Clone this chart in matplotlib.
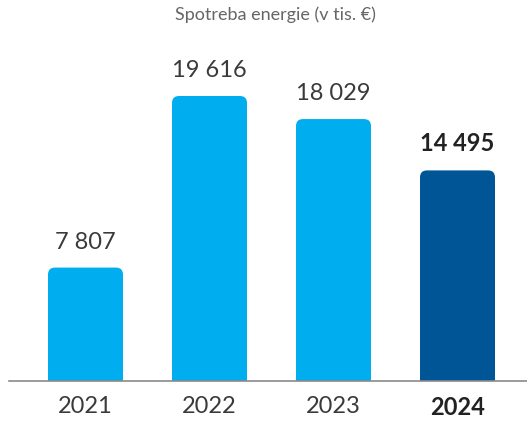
import matplotlib
matplotlib.use("Agg")
import matplotlib.pyplot as plt
from matplotlib.patches import FancyBboxPatch

years = ["2021", "2022", "2023", "2024"]
values = [7807, 19616, 18029, 14495]
labels = ["7 807", "19 616", "18 029", "14 495"]
title = "Spotreba energie (v tis. €)"
colors = ["#00AEEF", "#00AEEF", "#00AEEF", "#005596"]

plt.rcParams['font.family'] = ['Lato', 'DejaVu Sans']

W, H = 527, 421
fig = plt.figure(figsize=(W/100, H/100), dpi=100)
base_px = 381
top_px = 40
ax = fig.add_axes([9/W, (H-base_px)/H, (W-9)/W, (base_px-top_px)/H])

px_per_x = 124.0
px_per_y = 285.0/19616
xmin = -76.5/px_per_x
xmax = xmin + (W-9)/px_per_x
ymax = (base_px-top_px)/px_per_y
ax.set_xlim(xmin, xmax)
ax.set_ylim(0, ymax)

width = 75/px_per_x
r_px = 7
rx = r_px/px_per_x
aspect = (1/px_per_y)/(1/px_per_x)
for i, (v, c) in enumerate(zip(values, colors)):
    p = FancyBboxPatch((i - width/2 + rx, -2000 + rx*aspect), width - 2*rx, v + 2000 - 2*rx*aspect,
                       boxstyle=f"round,pad={rx},rounding_size={rx}",
                       mutation_aspect=aspect, fc=c, ec='none', clip_on=True)
    ax.add_patch(p)
    bold = (i == len(values)-1)
    ax.text(i, v + 15/px_per_y, labels[i], ha='center', va='bottom', fontsize=17,
            color='#222222' if bold else '#3a3a3a', fontweight='bold' if bold else 'normal')
    ax.text(i, -15/px_per_y, years[i], ha='center', va='top', fontsize=17,
            color='#222222' if bold else '#3a3a3a', fontweight='bold' if bold else 'normal',
            clip_on=False)

for s in ['top', 'right', 'left']:
    ax.spines[s].set_visible(False)
ax.spines['bottom'].set_color('#8a8a8a')
ax.spines['bottom'].set_linewidth(1.2)
ax.set_xticks([])
ax.set_yticks([])
ax.patch.set_alpha(0)

fig.text(275/W, 1 - 15/H, title, ha='center', va='center', fontsize=13, color='#666666', fontweight='normal')

fig.savefig("out.png", dpi=100)
